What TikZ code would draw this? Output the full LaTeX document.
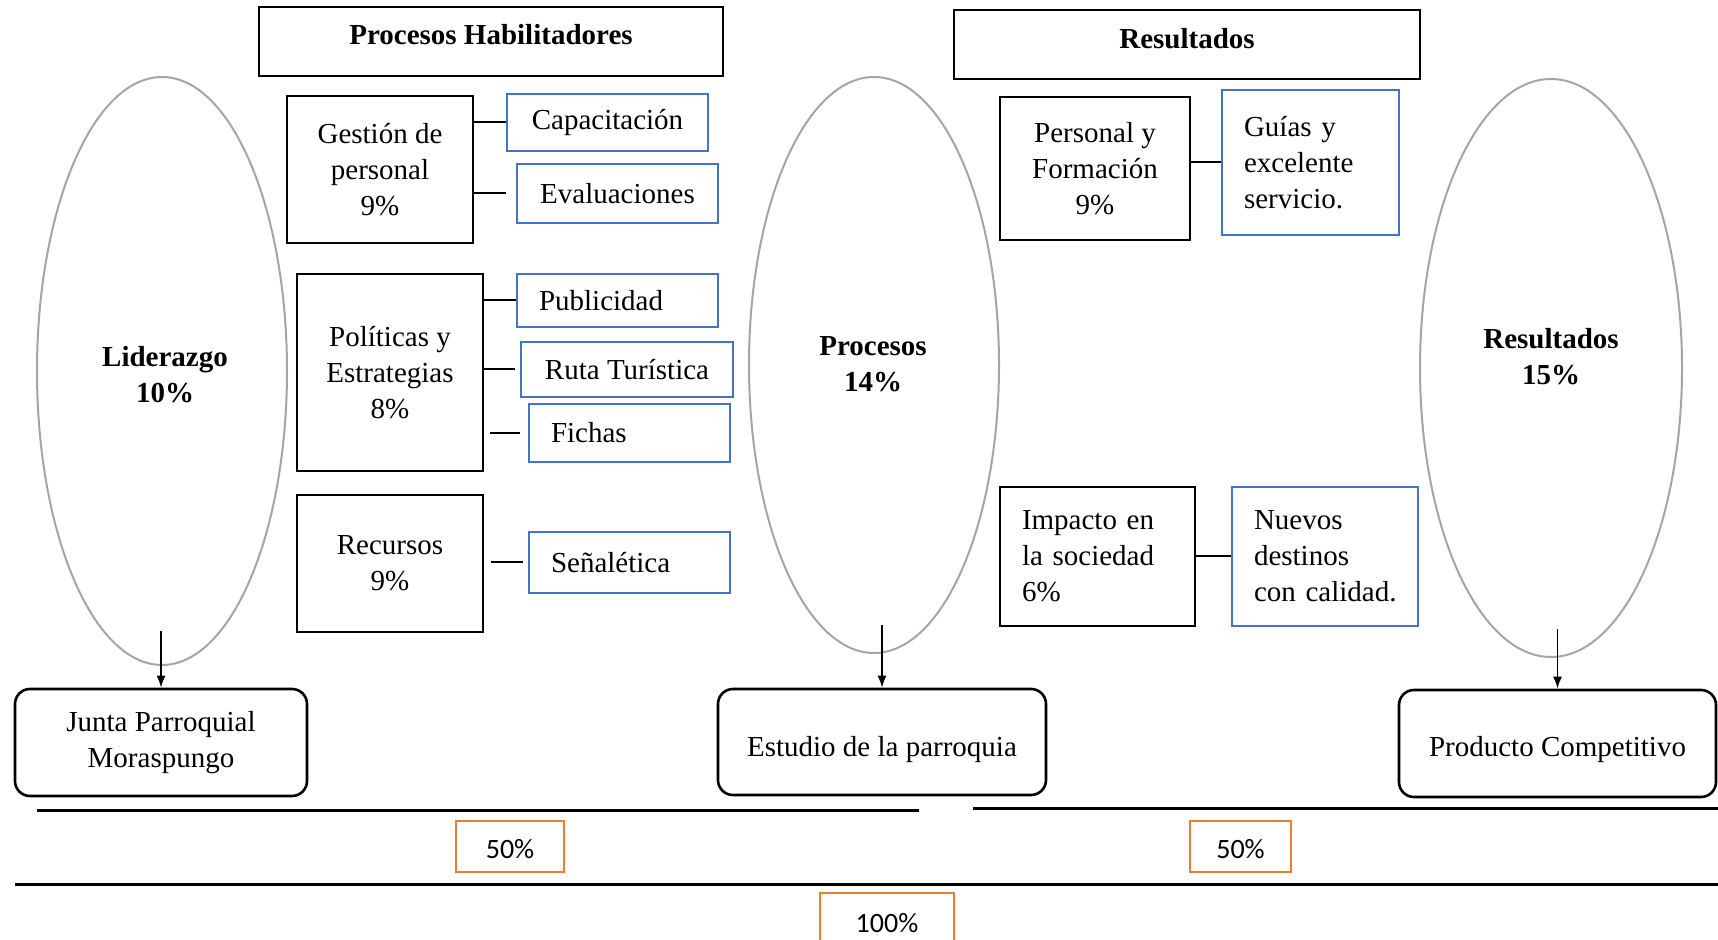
\documentclass[tikz,border=0pt]{standalone}
\usepackage{fontspec}
\setmainfont{Liberation Serif}
\newfontfamily\calibri{Carlito}
\usetikzlibrary{shapes.geometric,arrows.meta}
\definecolor{bluec}{RGB}{68,114,196}
\definecolor{orangec}{RGB}{237,125,49}
\definecolor{grayc}{RGB}{165,165,165}
\begin{document}
\begin{tikzpicture}[x=0.5pt,y=-0.5pt, font=\fontsize{14.5}{18}\selectfont,
  bbox/.style={draw=black, line width=1.2pt, align=center, inner sep=0pt},
  bluebox/.style={draw=bluec, line width=1.1pt, align=center, inner sep=0pt},
  rbox/.style={draw=black, line width=1.3pt, rounded corners=7.5pt, align=center, inner sep=0pt},
  ell/.style={draw=grayc, line width=1pt, ellipse, inner sep=0pt},
  obox/.style={draw=orangec, line width=1.1pt, inner sep=0pt},
  otext/.style={font=\calibri\fontsize{14}{16}\selectfont},
  conn/.style={draw=black, line width=1pt},
  arr/.style={draw=black, line width=0.9pt, -{Latex[length=6pt,width=4.5pt]}},
  rulel/.style={draw=black, line width=1.5pt},
  lbl/.style={align=center, font=\bfseries\fontsize{14.5}{18}\selectfont},
]
\useasboundingbox (0,0) rectangle (1718,940);
\clip (0,0) rectangle (1718,940);

% ellipses
\node[ell, minimum width=125pt, minimum height=294pt] (lid) at (162,371) {};
\node[ell, minimum width=125pt, minimum height=288pt] (proc) at (874,365) {};
\node[ell, minimum width=131pt, minimum height=289pt] (res) at (1551,368) {};
\node[lbl] (lidl) at (165,375) {Liderazgo\\10\%};
\node[lbl] (procl) at (873,364) {Procesos\\14\%};
\node[lbl] (resl) at (1551,357) {Resultados\\15\%};

% titles
\node[bbox, minimum width=232pt, minimum height=34.5pt] (ph) at (491,41.5) {};
\node[lbl] (phl) at (491,35) {Procesos Habilitadores};
\node[bbox, minimum width=233pt, minimum height=34.5pt] (rt) at (1187,44.5) {};
\node[lbl] (rtl) at (1187,39) {Resultados};

% left column
\node[bbox, minimum width=93pt, minimum height=73.5pt] (gest) at (380,169.5) {Gestión de\\personal\\9\%};
\node[bluebox, minimum width=100.5pt, minimum height=28.5pt] (cap) at (607.5,122.5) {Capacitación};
\node[bluebox, minimum width=100.5pt, minimum height=29.5pt] (eval) at (617.5,193.5) {Evaluaciones};

\node[bbox, minimum width=93pt, minimum height=98.5pt] (pol) at (390,372.5) {Políticas y\\Estrategias\\8\%};
\node[bluebox, minimum width=100.5pt, minimum height=26.5pt, text width=78.5pt, inner xsep=11pt, align=left] (pub) at (617.5,300.5) {Publicidad};
\node[bluebox, minimum width=106pt, minimum height=27.5pt] (ruta) at (627,369.5) {Ruta Turística};
\node[bluebox, minimum width=100.5pt, minimum height=29pt, text width=78.5pt, inner xsep=11pt, align=left] (fich) at (629.5,433) {Fichas};

\node[bbox, minimum width=93pt, minimum height=68.5pt] (rec) at (390,563.5) {Recursos\\9\%};
\node[bluebox, minimum width=100.5pt, minimum height=30.5pt, text width=78.5pt, inner xsep=11pt, align=left, text height=11.5pt, text depth=1pt] (sen) at (629.5,562.5) {Señalética};

% right column
\node[bbox, minimum width=95pt, minimum height=71.5pt] (pers) at (1095,168.5) {Personal y\\Formación\\9\%};
\node[bluebox, minimum width=88.5pt, minimum height=72.5pt, text width=66.5pt, inner xsep=11pt, align=left] (guias) at (1310.5,162.5) {\mbox{Guías y}\\\mbox{excelente}\\\mbox{servicio.}};
\node[bbox, minimum width=97.5pt, minimum height=69.5pt, text width=75.5pt, inner xsep=11pt, align=left] (imp) at (1097.5,556.5) {\mbox{Impacto en}\\\mbox{la sociedad}\\\mbox{6\%}};
\node[bluebox, minimum width=93pt, minimum height=69.5pt, text width=71pt, inner xsep=11pt, align=left] (nuev) at (1325,556.5) {\mbox{Nuevos}\\\mbox{destinos}\\\mbox{con calidad.}};

% bottom rounded boxes
\node[rbox, minimum width=146pt, minimum height=53.5pt] (junta) at (161,742.5) {Junta Parroquial\\Moraspungo};
\node[rbox, minimum width=164pt, minimum height=53pt, text height=17.3pt, text depth=3.2pt] (est) at (882,742) {Estudio de la parroquia};
\node[rbox, minimum width=158.5pt, minimum height=53.5pt, text height=16.3pt, text depth=3.2pt] (prod) at (1557.5,743.5) {Producto Competitivo};

% connectors
\draw[conn] (gest.east |- cap.west) -- (cap.west);
\draw[conn] (gest.east |- eval.west) -- ([xshift=-5pt]eval.west);
\draw[conn] (pol.east |- pub.west) -- (pub.west);
\draw[conn] (pol.east |- ruta.west) -- ([xshift=-2.5pt]ruta.west);
\draw[conn] (pol.east |- fich.west) ++(6,0) -- ([xshift=-4pt]fich.west);
\draw[conn] (rec.east |- sen.west) ++(7,0) -- ([xshift=-2.5pt]sen.west);
\draw[conn] (pers.east |- guias.west) -- (guias.west);
\draw[conn] (imp.east) -- (nuev.west);

% arrows
\draw[arr] (junta.north |- lid.south) ++(0,-35) -- (junta.north);
\draw[arr] (est.north |- proc.south) ++(0,-29) -- (est.north);
\draw[arr] (prod.north |- res.south) ++(0,-29) -- (prod.north);

% rules
\draw[rulel] (37,810) -- (919,810);
\draw[rulel] (973,808) -- (1718,808);
\draw[rulel] (15,884) -- (1718,884);

% percentage boxes
\node[obox, otext, minimum width=54pt, minimum height=25.5pt, text height=11.8pt, text depth=0pt] (p50a) at (510,846.5) {50\%};
\node[obox, otext, minimum width=50.5pt, minimum height=25.5pt, text height=11.8pt, text depth=0pt] (p50b) at (1240.5,846.5) {50\%};
\node[obox, otext, minimum width=67pt, minimum height=30pt] (p100) at (887,923) {100\%};
\end{tikzpicture}
\end{document}
